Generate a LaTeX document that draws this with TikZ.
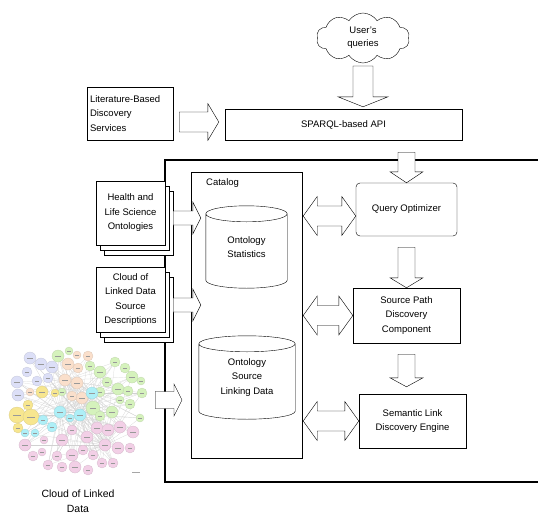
\documentclass[tikz,border=0pt]{standalone}
\usepackage{fontspec}
\setmainfont{Liberation Sans}
\usetikzlibrary{calc,shapes.symbols}

% node colours of the linked-data cloud
\definecolor{lv}{HTML}{DCDFF7}
\definecolor{pc}{HTML}{FADFCB}
\definecolor{gr}{HTML}{D5F2BC}
\definecolor{yl}{HTML}{F7E68F}
\definecolor{cy}{HTML}{AEEFF7}
\definecolor{pk}{HTML}{F2CFE6}

% block arrow pointing down: start, tip, shaft half width, head half width, head length
\newcommand{\fatdown}[5]{%
  \draw[fat] let \p1=(#1), \p2=(#2) in
    (\x1-#3,\y1) -- (\x1-#3,\y2+#5) -- (\x1-#4,\y2+#5) -- (\x1,\y2)
    -- (\x1+#4,\y2+#5) -- (\x1+#3,\y2+#5) -- (\x1+#3,\y1) -- cycle;}
% block arrow pointing right
\newcommand{\fatright}[5]{%
  \draw[fat] let \p1=(#1), \p2=(#2) in
    (\x1,\y1+#3) -- (\x2-#5,\y1+#3) -- (\x2-#5,\y1+#4) -- (\x2,\y1)
    -- (\x2-#5,\y1-#4) -- (\x2-#5,\y1-#3) -- (\x1,\y1-#3) -- cycle;}
% block arrow with heads at both ends
\newcommand{\fatboth}[5]{%
  \draw[fat] let \p1=(#1), \p2=(#2) in
    (\x1,\y1) -- (\x1+#5,\y1+#4) -- (\x1+#5,\y1+#3) -- (\x2-#5,\y1+#3)
    -- (\x2-#5,\y1+#4) -- (\x2,\y1) -- (\x2-#5,\y1-#4) -- (\x2-#5,\y1-#3)
    -- (\x1+#5,\y1-#3) -- (\x1+#5,\y1-#4) -- cycle;}
% database drum drawn round a node
\newcommand{\drum}[1]{%
  \draw[thin] let \p1=(#1.north west), \p2=(#1.south east), \n1={(\x2-\x1)/2} in
    (\x1,\y1-8pt) -- (\x1,\y2+8pt)
    arc[start angle=180,end angle=360,x radius={\n1*1pt},y radius=8pt]
    -- (\x2,\y1-8pt)
    arc[start angle=0,end angle=180,x radius={\n1*1pt},y radius=8pt] -- cycle
    (\x1,\y1-8pt) arc[start angle=180,end angle=360,x radius={\n1*1pt},y radius=8pt];}

\begin{document}
\begin{tikzpicture}[x=1pt,y=-1pt,
  font=\fontsize{9.5}{14.5}\selectfont,
  box/.style={draw,thin,fill=white,inner sep=0pt,align=center},
  fat/.style={draw,thin,fill=white,line join=miter},
  drumnode/.style={inner sep=0pt,align=center}]
\useasboundingbox (0,0) rectangle (538,514);

% outer system frame (runs past the right edge)
\node[draw,line width=2pt,minimum width=440,minimum height=322,inner sep=0pt] (outer) at (385,321) {};

% top row
\node[cloud,draw,thin,cloud puffs=10,cloud puff arc=115,aspect=1.9,minimum width=93,minimum height=50,
      inner sep=0pt,align=center,font=\fontsize{9.5}{13}\selectfont] (uq) at (363,38) {User's\\queries};
\node[box,minimum width=237,minimum height=31] (sparql) at (343.5,124.5) {SPARQL-based API};
\node[box,minimum width=86,minimum height=53,text width=80,align=left] (lit) at (130,113.5) {Literature-Based\\Discovery\\Services};

% catalog with its two stores
\node[box,minimum width=111,minimum height=286] (catalog) at (246.5,315) {};
\node[anchor=west,inner sep=0pt] (catlabel) at (206,183) {Catalog};
\node[drumnode,minimum width=81,minimum height=82] (ostat) at (246.5,247) {Ontology\\Statistics};
\drum{ostat}
\node[drumnode,minimum width=96,minimum height=83] (osld) at (247,377.5) {Ontology\\Source\\Linking Data};
\drum{osld}

% engine components
\node[box,rounded corners=4pt,minimum width=101,minimum height=53] (qo) at (406.5,209.5) {Query Optimizer};
\node[box,minimum width=107,minimum height=55] (spdc) at (406.5,315.5) {Source Path\\Discovery\\Component};
\node[box,minimum width=107,minimum height=54] (slde) at (412.5,421) {Semantic Link\\Discovery Engine};

% stacked document sources
\foreach \k in {8,4}{
  \draw[thin,fill=white] (96+\k,181+\k*1.25) rectangle (165+\k,245+\k*1.25);
  \draw[thin,fill=white] (96+\k,267+\k*1.25) rectangle (165+\k,332+\k*1.25);
}
\node[box,minimum width=69,minimum height=64] (hls) at (130.5,213) {Health and\\Life Science\\Ontologies};
\node[box,minimum width=69,minimum height=65] (cld) at (130.5,299.5) {Cloud of\\Linked Data\\Source\\Descriptions};

% linked-data cloud picture
\node[inner sep=0pt,minimum width=137,minimum height=128] (lod) at (76.5,414) {};
\begin{scope}
  \foreach \hx/\hy in {60/412,80/415,92/393,65/380,105/445}{
    \foreach \x/\y in {30/358,52/367,17/382,48/378,18/395,68/364,88/356,77/383,82/398,
        58/356,100/372,115/362,132/377,118/389,142/393,93/408,112/412,140/418,130/404,
        17/415,31/417,25/433,25/445,62/440,87/437,97/428,120/427,133/432,57/456,72/455,
        93/455,118/448,48/465,75/467,102/463,113/463}
      \draw[black!18,line width=0.2pt] (\hx,\hy) -- (\x,\y);
  }
  \foreach \x/\y/\r/\c in {
      30/358/6/lv,41/364/6/lv,27/372/5/lv,52/367/6/lv,17/382/6/lv,37/381/5/lv,48/378/5/lv,18/395/6/lv,
      68/364/6/pc,78/368/5/pc,88/356/5/pc,77/355/4/pc,65/380/6/pc,77/383/6/pc,82/398/6/pc,72/396/5/pc,30/392/4/pc,
      58/356/6/gr,69/351/4/gr,90/366/5/gr,100/372/6/gr,107/382/5/gr,115/362/5/gr,125/368/5/gr,132/377/6/gr,
      141/381/4/gr,118/389/6/gr,128/391/5/gr,142/393/5/gr,100/392/5/gr,93/408/7/gr,112/412/6/gr,100/416/5/gr,
      140/418/4/gr,130/404/5/gr,120/400/4/gr,62/392/4/gr,
      42/392/6/yl,55/393/4/yl,17/415/8/yl,31/417/8/yl,18/428/5/yl,28/405/5/yl,
      92/393/6/cy,60/412/6/cy,80/415/6/cy,43/420/5/cy,52/427/5/cy,25/433/4/cy,35/433/4/cy,70/418/4/cy,
      25/445/6/pk,33/456/5/pk,42/452/4/pk,62/440/6/pk,72/430/5/pk,87/437/6/pk,97/428/6/pk,108/430/6/pk,
      120/427/6/pk,133/432/6/pk,57/456/5/pk,72/455/6/pk,83/450/5/pk,93/455/5/pk,105/445/6/pk,118/448/6/pk,
      130/448/5/pk,48/465/5/pk,62/467/5/pk,75/467/6/pk,88/470/5/pk,102/463/5/pk,113/463/5/pk,44/440/4/pk}{
    \draw[\c,fill=\c,line width=0.3pt,draw=\c!75!gray] (\x,\y) circle[radius=\r pt];
    \draw[black!40,line width=0.4pt] (\x-\r*0.45,\y) -- (\x+\r*0.45,\y);
  }
  \draw[black!35,line width=0.4pt] (132,472) -- (140,472);
\end{scope}
\node[font=\fontsize{10.5}{15}\selectfont,align=center,inner sep=0pt] (lodcap) at (78,501) {Cloud of Linked\\Data};

% block arrows between components
\fatdown{$(uq.center)+(0,28)$}{$(sparql.north)+(0,-2)$}{10pt}{25pt}{10pt}
\fatright{$(lit.east)+(6,8.5)$}{$(sparql.west)+(-6,0)$}{10pt}{18.5pt}{11pt}
\fatdown{$(sparql.south -| qo.north)+(0,12)$}{qo.north}{8.5pt}{16.5pt}{11pt}
\fatdown{$(qo.south)+(0,11)$}{spdc.north}{8.5pt}{16.5pt}{10pt}
\fatdown{$(spdc.south)+(0,11)$}{$(slde.north)+(0,-7)$}{8.5pt}{16.5pt}{9pt}
\fatright{$(hls.east)+(8,5)$}{$(catalog.west)+(10,0)$}{7pt}{16pt}{8pt}
\fatright{$(cld.east)+(8,5.5)$}{$(catalog.west)+(10,0)$}{7pt}{16pt}{8pt}
\fatright{$(lod.east)+(10,-14)$}{$(outer.west)+(18,0)$}{8.5pt}{16pt}{8pt}
\fatboth{$(catalog.east |- qo.west)+(1,6.5)$}{qo.west}{10pt}{19.5pt}{14pt}
\fatboth{$(catalog.east |- spdc.west)+(1,0)$}{spdc.west}{10pt}{19.5pt}{14pt}
\fatboth{$(catalog.east |- slde.west)+(1,0)$}{slde.west}{10pt}{19.5pt}{14pt}
\end{tikzpicture}
\end{document}
